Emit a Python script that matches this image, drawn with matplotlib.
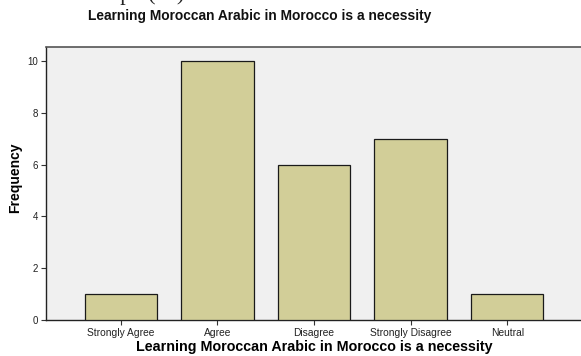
import matplotlib.pyplot as plt

# response counts for the survey item
categories = ["Strongly Agree", "Agree", "Disagree", "Strongly Disagree", "Neutral"]
counts = [1, 10, 6, 7, 1]
y_ticks = [0, 2, 4, 6, 8, 10]

title = "Learning Moroccan Arabic in Morocco is a necessity"

plt.rcParams["font.family"] = ["Liberation Sans", "DejaVu Sans"]

fig = plt.figure(figsize=(5.81, 3.56), dpi=100)
fig.patch.set_facecolor("white")
ax = fig.add_axes([0.079, 0.101, 0.923, 0.767])
ax.set_facecolor("#f0f0f0")

x = list(range(len(categories)))
ax.bar(x, counts, width=0.75, color="#d2ce98", edgecolor="#1a1a1a", linewidth=0.9, zorder=3)

ax.set_xlim(-0.776, 4.776)
ax.set_ylim(0, 10.54)
ax.set_xticks(x)
ax.set_xticklabels(categories, fontsize=7.4, color="#222222")
ax.set_yticks(y_ticks)
ax.set_yticklabels([str(v) for v in y_ticks], fontsize=7, color="#222222")
ax.tick_params(axis="both", length=3.5, width=0.8, color="#333333", pad=2)

for side in ["left", "bottom"]:
    ax.spines[side].set_color("#222222")
    ax.spines[side].set_linewidth(1.0)
ax.spines["top"].set_color("#555555")
ax.spines["top"].set_linewidth(1.2)
ax.spines["right"].set_visible(False)

ax.set_ylabel("Frequency", fontsize=10, fontweight="bold")
ax.yaxis.set_label_coords(-0.045, 0.52)
ax.set_xlabel(title, fontsize=10.3, fontweight="bold", labelpad=2)

fig.text(0.447, 0.955, title, ha="center", va="center", fontsize=9.9, fontweight="bold", color="#111111")

# caption line from the page above, mostly cut off at the top edge
fig.text(0.318, 0.999, "Graph (11)", ha="right", va="baseline", fontsize=16,
         family="Liberation Serif", color="#222222")

fig.savefig("out.png", dpi=100)
